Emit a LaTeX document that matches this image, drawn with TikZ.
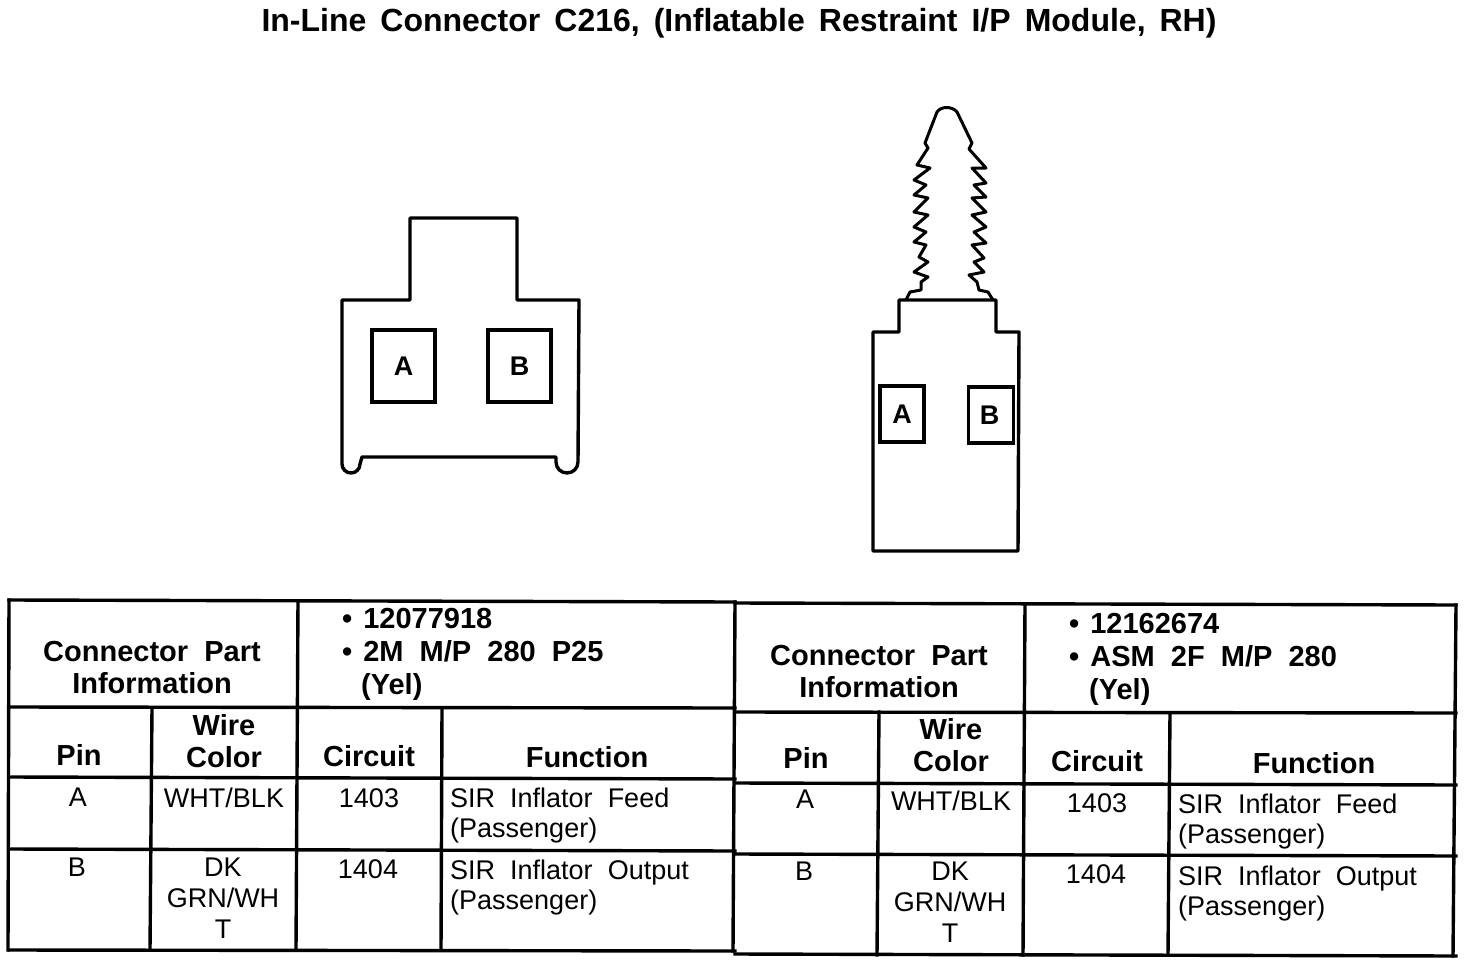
\documentclass[tikz,border=0pt]{standalone}
\usepackage{fontspec}
\setmainfont[WordSpace=2.0]{Liberation Sans}
\begin{document}
\begin{tikzpicture}[x=1pt,y=-1pt,
	outline/.style={line width=3.4pt, line join=round},
	rule/.style={line width=3.4pt, line cap=rect},
	pinbox/.style={draw, line width=3.4pt, rectangle, inner sep=0pt, font=\fontsize{27}{30}\selectfont\bfseries},
	headtext/.style={inner sep=0pt, anchor=north, align=center, font=\fontsize{29}{32}\selectfont\bfseries},
	parttext/.style={inner sep=0pt, anchor=north west, align=left, font=\fontsize{29}{33}\selectfont\bfseries},
	bodytext/.style={inner sep=0pt, anchor=north, align=center, font=\fontsize{27}{31}\selectfont},
	functext/.style={bodytext, anchor=north west, align=left, font=\fontsize{27}{30}\selectfont}]
	\useasboundingbox (0,0) rectangle (1472,966);

	\node[inner sep=0pt, font=\fontsize{32}{34}\selectfont\bfseries] (title) at (739,23) {\spaceskip 14pt\relax In-Line Connector C216, (Inflatable Restraint I/P Module, RH)};

	% connector, front view
	\draw[outline] (410,300) -- (410,218) -- (517,218) -- (517,300) -- (579,300) -- (578,462)
		arc[start angle=0, end angle=180, radius=11] -- (556,457) -- (362,457) -- (360,464)
		arc[start angle=0, end angle=180, radius=9] -- (342,300) -- cycle;
	\node[pinbox, minimum width=63pt, minimum height=72pt] (frontA) at (403.5,366) {A};
	\node[pinbox, minimum width=63pt, minimum height=72pt] (frontB) at (519.5,366) {B};

	% connector, side view with the seal
	\draw[outline] (873,551) -- (873,332) -- (899,332) -- (899,300) -- (996,300) -- (996,332) -- (1019,332) -- (1018,551) -- cycle;
	\draw[outline, line width=3pt] (906,300) -- (910,292) -- (921,290) -- (921,282) -- (928,277) -- (914,272) -- (928,262) -- (919,257)
		-- (926,245) -- (914,242) -- (926,232) -- (914,227) -- (928,215) -- (914,212) -- (928,198) -- (914,195)
		-- (926,185) -- (914,180) -- (930,168) -- (917,165) -- (928,148) -- (925,143) -- (937,112)
		.. controls (941,106) and (952,106) .. (957,112)
		-- (972,143) -- (969,149) -- (986,168) -- (972,168) -- (986,183) -- (974,185) -- (986,197) -- (972,198)
		-- (986,212) -- (972,215) -- (986,227) -- (974,232) -- (986,243) -- (972,245) -- (984,258) -- (974,262)
		-- (984,272) -- (969,275) -- (977,282) -- (979,290) -- (988,292) -- (993,300);
	\node[pinbox, minimum width=44pt, minimum height=56pt] (sideA) at (902,414) {A};
	\node[pinbox, minimum width=45pt, minimum height=56pt] (sideB) at (991,415) {\hspace{-3pt}B};

	% table lines
	\foreach \xa/\ya/\xb/\yb in {9/600/735/602, 735/603/1456/605, 9/707/735/708, 735/712/1456/713, 9/777/735/779, 735/783/1456/785,
			9/849/735/851, 735/854/1456/856, 9/950/735/951, 735/954/1456/956}
		\draw[rule] (\xa,\ya) -- (\xb,\yb);
	\foreach \xa/\ya/\xb/\yb in {9/600/8/950, 298/601/296/950, 152/708/150/950, 442/708/441/950, 735/602/733/951,
			1025/604/1023/955, 879/712/877/955, 1170/713/1168/955, 1456/605/1453/956}
		\draw[rule] (\xa,\ya) -- (\xb,\yb);

	% left table
	\node[headtext] (connL) at (152,641) {Connector Part\\Information};
	\node[parttext] (partL) at (342,608) {\textbullet\hspace{11pt}12077918\\\textbullet\hspace{11pt}2M M/P 280 P25\\\hspace*{19pt}(Yel)};
	\node[headtext] (pinL) at (79,744) {Pin};
	\node[headtext] (wireL) at (224,714) {Wire\\Color};
	\node[headtext] (circuitL) at (369,745) {Circuit};
	\node[headtext] (funcL) at (587,746) {Function};
	\node[bodytext] (pinAL) at (78,788) {A};
	\node[bodytext] (wireAL) at (224,788) {WHT/BLK};
	\node[bodytext] (circuitAL) at (369,788) {1403};
	\node[functext] (funcAL) at (450,788) {SIR Inflator Feed\\(Passenger)};
	\node[bodytext] (pinBL) at (77,858) {B};
	\node[bodytext] (wireBL) at (223,858) {DK\\GRN/WH\\T};
	\node[bodytext] (circuitBL) at (368,859) {1404};
	\node[functext] (funcBL) at (450,860) {SIR Inflator Output\\(Passenger)};

	% right table
	\node[headtext] (connR) at (879,645) {Connector Part\\Information};
	\node[parttext] (partR) at (1069,613) {\textbullet\hspace{11pt}12162674\\\textbullet\hspace{11pt}ASM 2F M/P 280\\\hspace*{20pt}(Yel)};
	\node[headtext] (pinR) at (806,747) {Pin};
	\node[headtext] (wireR) at (951,718) {Wire\\Color};
	\node[headtext] (circuitR) at (1097,750) {Circuit};
	\node[headtext] (funcR) at (1314,752) {Function};
	\node[bodytext] (pinAR) at (805,790) {A};
	\node[bodytext] (wireAR) at (951,791) {WHT/BLK};
	\node[bodytext] (circuitAR) at (1097,793) {1403};
	\node[functext] (funcAR) at (1178,794) {SIR Inflator Feed\\(Passenger)};
	\node[bodytext] (pinBR) at (804,862) {B};
	\node[bodytext] (wireBR) at (950,862) {DK\\GRN/WH\\T};
	\node[bodytext] (circuitBR) at (1096,864) {1404};
	\node[functext] (funcBR) at (1178,866) {SIR Inflator Output\\(Passenger)};
\end{tikzpicture}
\end{document}
